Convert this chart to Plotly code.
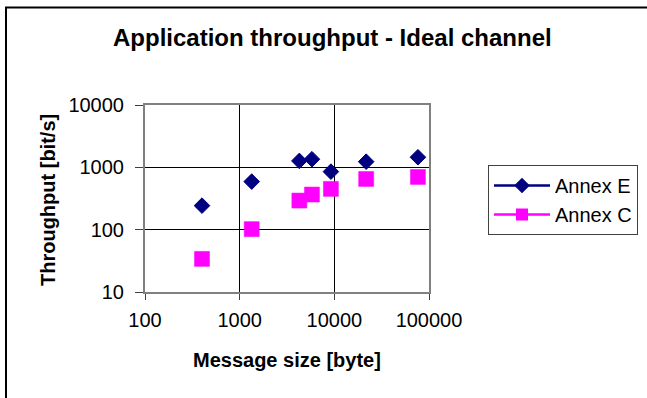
import plotly.graph_objects as go

# Data
msg_size = [400, 1340, 4270, 5800, 9200, 21700, 76400]
annex_e = [243, 590, 1268, 1350, 853, 1233, 1452]
annex_c = [34, 102, 293, 366, 451, 651, 701]

x_ticks = [100, 1000, 10000, 100000]
x_ticktext = ["100", "1000", "10000", "100000"]
y_ticks = [10, 100, 1000, 10000]
y_ticktext = ["10", "100", "1000", "10000"]

NAVY = "#000080"
MAGENTA = "#FF00FF"
FONT = "Liberation Sans, Arial, sans-serif"

W, H = 647, 398
L, R, T, B = 145, 429, 105, 292  # plot area in pixels


def px(x):
    return (x - L) / (R - L)


def py(y):
    return (B - y) / (B - T)


fig = go.Figure()

fig.add_trace(go.Scatter(
    x=msg_size, y=annex_e, mode="markers", showlegend=False,
    marker=dict(symbol="diamond", size=12, color=NAVY,
                line=dict(color=NAVY, width=1)),
))
fig.add_trace(go.Scatter(
    x=msg_size, y=annex_c, mode="markers", showlegend=False,
    marker=dict(symbol="square", size=15, color=MAGENTA,
                line=dict(color=MAGENTA, width=0.5)),
))
# legend entries (line + marker)
fig.add_trace(go.Scatter(
    x=[None], y=[None], mode="lines+markers", name="Annex E",
    line=dict(color=NAVY, width=2.5),
    marker=dict(symbol="diamond", size=12, color=NAVY),
))
fig.add_trace(go.Scatter(
    x=[None], y=[None], mode="lines+markers", name="Annex C",
    line=dict(color=MAGENTA, width=2.5),
    marker=dict(symbol="square", size=12, color=MAGENTA),
))

axis_common = dict(
    type="log",
    showgrid=True, gridcolor="black", gridwidth=1,
    showline=True, linecolor="#808080", linewidth=2, mirror=True,
    ticks="outside", tickcolor="#404040", tickwidth=1,
    tickfont=dict(family=FONT, size=20, color="black"),
    zeroline=False,
)

fig.update_xaxes(range=[2, 5], tickvals=x_ticks, ticktext=x_ticktext,
                 ticklen=6, ticklabelstandoff=3, **axis_common)
fig.update_yaxes(range=[1, 4], tickvals=y_ticks, ticktext=y_ticktext,
                 ticklen=8, ticklabelstandoff=7, **axis_common)

fig.update_layout(
    width=W, height=H,
    margin=dict(l=L, r=W - R, t=T, b=H - B, autoexpand=False),
    paper_bgcolor="white", plot_bgcolor="white",
    font=dict(family=FONT, color="black"),
    showlegend=True,
    legend=dict(
        x=px(488), y=py(165), xanchor="left", yanchor="top",
        bordercolor="#404040", borderwidth=1, bgcolor="white",
        font=dict(family=FONT, size=20, color="black"),
        itemwidth=56, tracegroupgap=8,
    ),
    annotations=[
        dict(text="<b>Application throughput - Ideal channel</b>",
             x=px(332), y=py(37), xref="paper", yref="paper",
             xanchor="center", yanchor="middle", showarrow=False,
             font=dict(family=FONT, size=24, color="black")),
        dict(text="<b>Message size [byte]</b>",
             x=px(287), y=py(360), xref="paper", yref="paper",
             xanchor="center", yanchor="middle", showarrow=False,
             font=dict(family=FONT, size=20, color="black")),
        dict(text="<b>Throughput [bit/s]</b>",
             x=px(48), y=py(200), xref="paper", yref="paper",
             xanchor="center", yanchor="middle", showarrow=False,
             textangle=-90,
             font=dict(family=FONT, size=20, color="black")),
    ],
    shapes=[
        dict(type="rect", xref="paper", yref="paper",
             x0=px(6), x1=px(700), y0=py(450), y1=py(7.5),
             line=dict(color="black", width=2), fillcolor="rgba(0,0,0,0)",
             layer="below"),
    ],
)

fig.write_html("out.html")
